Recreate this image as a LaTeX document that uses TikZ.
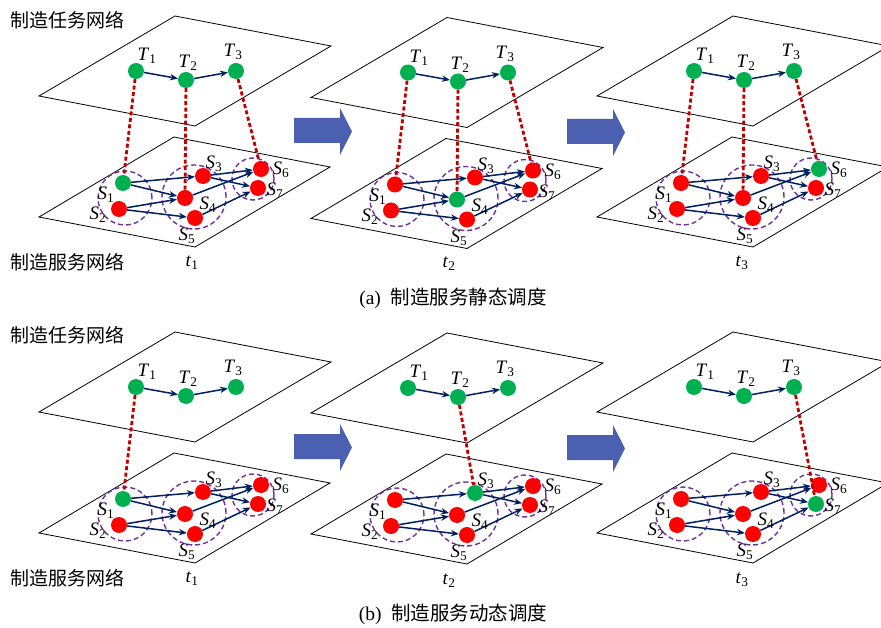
\documentclass[tikz,border=0pt]{standalone}
\usepackage{fontspec}
\setmainfont{Liberation Serif}
\newfontfamily\cjk{Noto Sans CJK SC}
\usetikzlibrary{arrows.meta}

\definecolor{taskgreen}{RGB}{0,176,80}
\definecolor{svcred}{RGB}{255,0,0}
\definecolor{linkred}{RGB}{192,0,0}
\definecolor{edgeblue}{RGB}{0,32,96}
\definecolor{grouppurple}{RGB}{112,48,160}
\definecolor{stepblue}{RGB}{76,96,178}

\newcommand{\lab}[2]{\textit{#1}\textsubscript{#2}}

% one time step: task plane over service plane; #1 prefix, #2 #3 shift, #4 busy service
\newcommand{\timestep}[4]{%
\begin{scope}[shift={(#2,#3)}]
  \draw[plane] (39,96) -- (175,16) -- (331,46) -- (195,126) -- cycle;
  \draw[plane] (39,217) -- (174,137) -- (330,167) -- (195,247) -- cycle;
  \draw[group] (125,198) circle (27pt);
  \draw[group] (194,197) circle (32pt);
  \draw[group] (253,179) circle (21pt);

  \node[task] (#1T1) at (136,71) {};
  \node[task] (#1T2) at (186,80) {};
  \node[task] (#1T3) at (236,71) {};
  \foreach \n/\px/\py in {1/123/183,2/119/209,3/203/176,4/185/198,5/195/218,6/261/169,7/258/188}{
    \ifnum\n=#4 \node[svc,fill=taskgreen] (#1S\n) at (\px,\py) {};
    \else \node[svc] (#1S\n) at (\px,\py) {}; \fi
  }

  \draw[flow] (#1T1) -- (#1T2);
  \draw[flow] (#1T2) -- (#1T3);
  \draw[flow] (#1S1) -- (#1S3);
  \draw[flow] (#1S1) -- (#1S4);
  \draw[flow] (#1S2) -- (#1S4);
  \draw[flow] (#1S2) -- (#1S5);
  \draw[flow] (#1S3) -- (#1S6);
  \draw[flow] (#1S3) -- (#1S7);
  \draw[flow] (#1S4) -- (#1S6);
  \draw[flow] (#1S5) -- (#1S7);

  \node (#1LT1) at (147,56) {\lab{T}{1}};
  \node (#1LT2) at (188,63) {\lab{T}{2}};
  \node (#1LT3) at (233,52) {\lab{T}{3}};
  \node (#1LS1) at (106,195) {\lab{S}{1}};
  \node (#1LS2) at (98,215) {\lab{S}{2}};
  \node (#1LS3) at (214,164) {\lab{S}{3}};
  \node (#1LS4) at (208,205) {\lab{S}{4}};
  \node (#1LS5) at (187,236) {\lab{S}{5}};
  \node (#1LS6) at (281,170) {\lab{S}{6}};
  \node (#1LS7) at (275,191) {\lab{S}{7}};
\end{scope}}

% block arrow between two time steps
\newcommand{\nextstep}[2]{%
  \fill[stepblue, shift={(#1,#2)}] (294,118) -- (340,118) -- (340,108) -- (352,131.5)
    -- (340,155) -- (340,143) -- (294,143) -- cycle;}

\begin{document}
\begin{tikzpicture}[x=1pt, y=-1pt,
    font=\fontsize{19}{22}\selectfont,
    plane/.style={black, line width=0.8pt},
    group/.style={grouppurple, dash pattern=on 5pt off 3pt, line width=1.4pt},
    task/.style={circle, fill=taskgreen, minimum size=16pt, inner sep=0pt},
    svc/.style={circle, fill=svcred, minimum size=16pt, inner sep=0pt},
    flow/.style={edgeblue, line width=1.5pt, -{Stealth[length=8pt, width=6.5pt]}},
    link/.style={linkred, line width=2.8pt, dash pattern=on 4pt off 2.5pt},
    net/.style={font=\cjk\fontsize{19}{22}\selectfont},
    caption/.style={font=\fontsize{19.5}{22}\selectfont}]
  \useasboundingbox (0,0) rectangle (881,628);

  % (a) static scheduling
  \timestep{a1}{0}{0}{1}
  \timestep{a2}{272}{1.5}{4}
  \timestep{a3}{558}{0}{6}
  \nextstep{0}{0}
  \nextstep{273}{1}

  \draw[link] (a1T1) -- (a1S1);
  \draw[link] (a1T2) -- (a1S4);
  \draw[link] (a1T3) -- (a1S6);
  \draw[link] (a2T1) -- (a2S1);
  \draw[link] (a2T2) -- (a2S4);
  \draw[link] (a2T3) -- (a2S6);
  \draw[link] (a3T1) -- (a3S1);
  \draw[link] (a3T2) -- (a3S4);
  \draw[link] (a3T3) -- (a3S6);

  \node[net] (taskA) at (67,20) {制造任务网络};
  \node[net] (svcA) at (67,262) {制造服务网络};
  \node (tA1) at (192,263) {\lab{t}{1}};
  \node (tA2) at (449,264) {\lab{t}{2}};
  \node (tA3) at (742,263) {\lab{t}{3}};
  \node[caption] (capA) at (453,298) {(a)\ \ {\cjk 制造服务静态调度}};

  % (b) dynamic scheduling
  \timestep{b1}{0}{316}{1}
  \timestep{b2}{272}{317}{3}
  \timestep{b3}{558}{316}{7}
  \nextstep{0}{316}
  \nextstep{273}{317}

  \draw[link] (b1T1) -- (b1S1);
  \draw[link] (b2T2) -- (b2S3);
  \draw[link] (b3T3) -- (b3S7);

  \node[net] (taskB) at (67,335) {制造任务网络};
  \node[net] (svcB) at (67,578) {制造服务网络};
  \node (tB1) at (192,579) {\lab{t}{1}};
  \node (tB2) at (449,581) {\lab{t}{2}};
  \node (tB3) at (742,580) {\lab{t}{3}};
  \node[caption] (capB) at (453,614) {(b)\ \ {\cjk 制造服务动态调度}};
\end{tikzpicture}
\end{document}
